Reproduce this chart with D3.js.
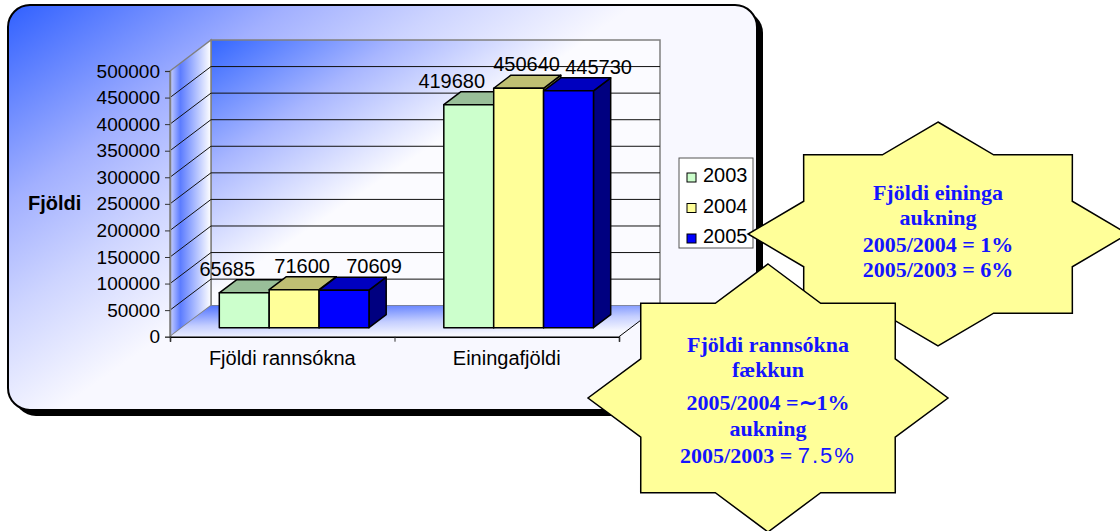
<!DOCTYPE html>
<html>
<head>
<meta charset="utf-8">
<script src="https://cdn.jsdelivr.net/npm/d3@7"></script>
<style>
body { margin: 0; background: #fff; }
svg { display: block; font-family: "Liberation Sans", Arial, sans-serif; }
</style>
</head>
<body>
<div id="chart"></div>
<script>
// chart values
var categories = ["Fjöldi rannsókna", "Einingafjöldi"]
var years = ["2003", "2004", "2005"]
var values2003 = [65685, 419680]
var values2004 = [71600, 450640]
var values2005 = [70609, 445730]
var tickValues = [0, 50000, 100000, 150000, 200000, 250000, 300000, 350000, 400000, 450000, 500000]
var yTitle = "Fjöldi"
var star1Lines = ["Fjöldi eininga", "aukning", "2005/2004 = 1%", "2005/2003 = 6%"]
var star2Lines = ["Fjöldi rannsókna", "fækkun", "2005/2004 =∼1%", "aukning", "2005/2003 = "]
var star2Tail = "7.5%"

var seriesValues = [values2003, values2004, values2005]
var seriesColors = ["#CCFFCC", "#FFFF99", "#0000FF"]

var w = 1120
var h = 531

var svg = d3.select("#chart")
    .append("svg")
    .attr("width", w)
    .attr("height", h)

var defs = svg.append("defs")

function addGrad(id, x1, y1, x2, y2, stops, units){
    var g = defs.append("linearGradient")
        .attr("id", id)
        .attr("x1", x1).attr("y1", y1)
        .attr("x2", x2).attr("y2", y2)
    if(units) g.attr("gradientUnits", units)
    stops.forEach(function(s){
        g.append("stop").attr("offset", s[0]).attr("stop-color", s[1])
    })
}

addGrad("panelGrad", 8, 5, 215, 300, [[0, "#3060FF"], [0.45, "#A2B0FF"], [0.7, "#CDD4FF"], [1, "#F8F8FF"]], "userSpaceOnUse")
addGrad("backGrad", 211, 40, 330, 215, [[0, "#3366FF"], [0.5, "#A8B6FF"], [1, "#FBFBFF"]], "userSpaceOnUse")
addGrad("sideGrad", 0, 0, 1, 0, [[0, "#C8D0FF"], [0.25, "#5C7CFF"], [1, "#FFFFFF"]])
addGrad("floorGrad", 0, 0, 0.35, 1, [[0, "#4D70FF"], [0.6, "#C4CEFF"], [1, "#F6F7FF"]])

// 3d frame
var x0 = 170, x1 = 619
var depthX = 41, depthY = 31
var zFront = 0.29, zBack = 0.71

var x = d3.scaleBand().domain(categories).range([x0, x1])
var xs = d3.scaleBand().domain(years).range([0, x.bandwidth()]).paddingOuter(0.75)
var y = d3.scaleLinear().domain([0, 500000]).range([336.7, 71])

function proj(px, v, z){
    return [px + z * depthX, y(v) - z * depthY]
}
function pts(list){
    return list.map(function(p){ return p.join(",") }).join(" ")
}

// panel with shadow
svg.append("rect")
    .attr("x", 14).attr("y", 11)
    .attr("width", 749).attr("height", 405)
    .attr("rx", 22)
    .attr("fill", "black")

svg.append("rect")
    .attr("x", 8).attr("y", 5)
    .attr("width", 749).attr("height", 405)
    .attr("rx", 22)
    .attr("fill", "url(#panelGrad)")
    .attr("stroke", "black")
    .attr("stroke-width", 2)

// back wall
svg.append("polygon")
    .attr("points", pts([proj(x0, 0, 1), proj(x0, 500000, 1), proj(x1, 500000, 1), proj(x1, 0, 1)]))
    .attr("fill", "url(#backGrad)")
    .attr("stroke", "#808080")
    .attr("stroke-width", 1.5)

// side wall
svg.append("polygon")
    .attr("points", pts([proj(x0, 0, 0), proj(x0, 500000, 0), proj(x0, 500000, 1), proj(x0, 0, 1)]))
    .attr("fill", "url(#sideGrad)")
    .attr("stroke", "#808080")
    .attr("stroke-width", 1.5)

// floor
svg.append("polygon")
    .attr("points", pts([proj(x0, 0, 0), proj(x0, 0, 1), proj(x1, 0, 1), proj(x1, 0, 0)]))
    .attr("fill", "url(#floorGrad)")
    .attr("stroke", "none")

svg.append("line")
    .attr("x1", proj(x1, 0, 0)[0]).attr("y1", proj(x1, 0, 0)[1])
    .attr("x2", proj(x1, 0, 1)[0]).attr("y2", proj(x1, 0, 1)[1])
    .attr("stroke", "black")
    .attr("stroke-width", 1)

// gridlines
var inner = tickValues.filter(function(d){ return d > 0 && d < 500000 })
svg.selectAll(".grid")
    .data(inner)
    .enter()
    .append("polyline")
    .attr("class", "grid")
    .attr("points", function(d){
        return pts([proj(x0, d, 0), proj(x0, d, 1), proj(x1, d, 1)])
    })
    .attr("fill", "none")
    .attr("stroke", "#111")
    .attr("stroke-width", 1)

// axes
var yAxis = svg.append("g")
    .attr("transform", "translate(" + x0 + ",0)")
    .call(d3.axisLeft(y).tickValues(tickValues).tickSize(5).tickPadding(5).tickFormat(d3.format("d")))
yAxis.attr("font-family", null).attr("font-size", null)
yAxis.select(".domain").attr("stroke", "#808080").attr("stroke-width", 1.5)
yAxis.selectAll(".tick line").attr("stroke", "#333")
yAxis.selectAll(".tick text")
    .style("font-size", "19px")
    .attr("fill", "black")

var bound = d3.scaleLinear().domain([0, categories.length]).range([x0, x1])
var xTicks = svg.append("g")
    .attr("transform", "translate(0," + y(0) + ")")
    .call(d3.axisBottom(bound).ticks(categories.length).tickSize(5).tickFormat(""))
xTicks.select(".domain").attr("stroke", "black").attr("stroke-width", 1.5)
xTicks.selectAll(".tick line").attr("stroke", "#333")

var xAxis = svg.append("g")
    .attr("transform", "translate(0," + y(0) + ")")
    .call(d3.axisBottom(x).tickSize(0).tickPadding(14))
xAxis.attr("font-family", null).attr("font-size", null)
xAxis.select(".domain").remove()
xAxis.selectAll(".tick text")
    .style("font-size", "20px")
    .attr("fill", "black")

svg.append("text")
    .attr("x", 28)
    .attr("y", 210)
    .style("font-size", "20px")
    .style("font-weight", "bold")
    .text(yTitle)

// bars
function shade(c, k){
    var r = d3.rgb(c)
    return d3.rgb(r.r * k, r.g * k, r.b * k).formatHex()
}

var labelShift = [-17, 8, 30]

categories.forEach(function(cat, ci){
    years.forEach(function(yr, si){
        var v = seriesValues[si][ci]
        var fx = x(cat) + xs(yr)
        var bw = xs.bandwidth()
        var g = svg.append("g").attr("class", "bar")
        g.append("polygon")
            .attr("points", pts([proj(fx + bw, 0, zFront), proj(fx + bw, 0, zBack), proj(fx + bw, v, zBack), proj(fx + bw, v, zFront)]))
            .attr("fill", shade(seriesColors[si], 0.5))
            .attr("stroke", "black").attr("stroke-width", 1.5).attr("stroke-linejoin", "round")
        g.append("polygon")
            .attr("points", pts([proj(fx, v, zFront), proj(fx + bw, v, zFront), proj(fx + bw, v, zBack), proj(fx, v, zBack)]))
            .attr("fill", shade(seriesColors[si], 0.75))
            .attr("stroke", "black").attr("stroke-width", 1.5).attr("stroke-linejoin", "round")
        g.append("polygon")
            .attr("points", pts([proj(fx, 0, zFront), proj(fx + bw, 0, zFront), proj(fx + bw, v, zFront), proj(fx, v, zFront)]))
            .attr("fill", seriesColors[si])
            .attr("stroke", "black").attr("stroke-width", 1.5).attr("stroke-linejoin", "round")
    })
})

// value labels
categories.forEach(function(cat, ci){
    years.forEach(function(yr, si){
        var v = seriesValues[si][ci]
        var fx = x(cat) + xs(yr) + xs.bandwidth() / 2
        var p = proj(fx, v, zBack)
        svg.append("text")
            .attr("x", proj(fx, v, zFront)[0] + labelShift[si])
            .attr("y", p[1] - 4)
            .attr("text-anchor", "middle")
            .style("font-size", "20px")
            .attr("fill", "black")
            .text(v)
    })
})

// legend
var legend = svg.append("g")
legend.append("rect")
    .attr("x", 679).attr("y", 158)
    .attr("width", 74).attr("height", 90)
    .attr("fill", "white")
    .attr("stroke", "#555")
    .attr("stroke-width", 1)

var legendY = d3.scalePoint().domain(years).range([182, 243])
years.forEach(function(yr, si){
    legend.append("rect")
        .attr("x", 687).attr("y", legendY(yr) - 9)
        .attr("width", 9).attr("height", 9)
        .attr("fill", seriesColors[si])
        .attr("stroke", "black")
        .attr("stroke-width", 1)
    legend.append("text")
        .attr("x", 703).attr("y", legendY(yr))
        .style("font-size", "20px")
        .attr("fill", "black")
        .text(yr)
})

// stars
function starPoints(cx, cy, rx, ry){
    var list = []
    for(var k = 0; k < 16; k++){
        var a = (-90 + k * 22.5) * Math.PI / 180
        var r = k % 2 == 0 ? 1 : 0.765
        list.push([cx + rx * r * Math.cos(a), cy + ry * r * Math.sin(a)])
    }
    return pts(list)
}

function drawStar(cx, cy, rx, ry, lines, offsets){
    var g = svg.append("g")
    g.append("polygon")
        .attr("points", starPoints(cx, cy, rx, ry))
        .attr("fill", "#FFFF99")
        .attr("stroke", "black")
        .attr("stroke-width", 1.5)
    var t = g.selectAll("text")
        .data(lines)
        .enter()
        .append("text")
        .attr("x", cx)
        .attr("y", function(d, i){ return cy + offsets[i] })
        .attr("text-anchor", "middle")
        .style("font-family", "'Liberation Serif', 'Times New Roman', serif")
        .style("font-weight", "bold")
        .style("font-size", "22px")
        .attr("fill", "#1414FF")
        .text(function(d){ return d })
    return t
}

drawStar(938, 234, 190, 112, star1Lines, [-34, -9, 17.7, 42.7])
var s2 = drawStar(768, 398, 180, 134, star2Lines, [-46.3, -21, 12, 38, 64.7])
s2.filter(function(d, i){ return i == star2Lines.length - 1 })
    .append("tspan")
    .style("font-family", "'Liberation Sans', Arial, sans-serif")
    .style("font-weight", "normal")
    .style("letter-spacing", "2px")
    .text(star2Tail)
</script>
</body>
</html>
